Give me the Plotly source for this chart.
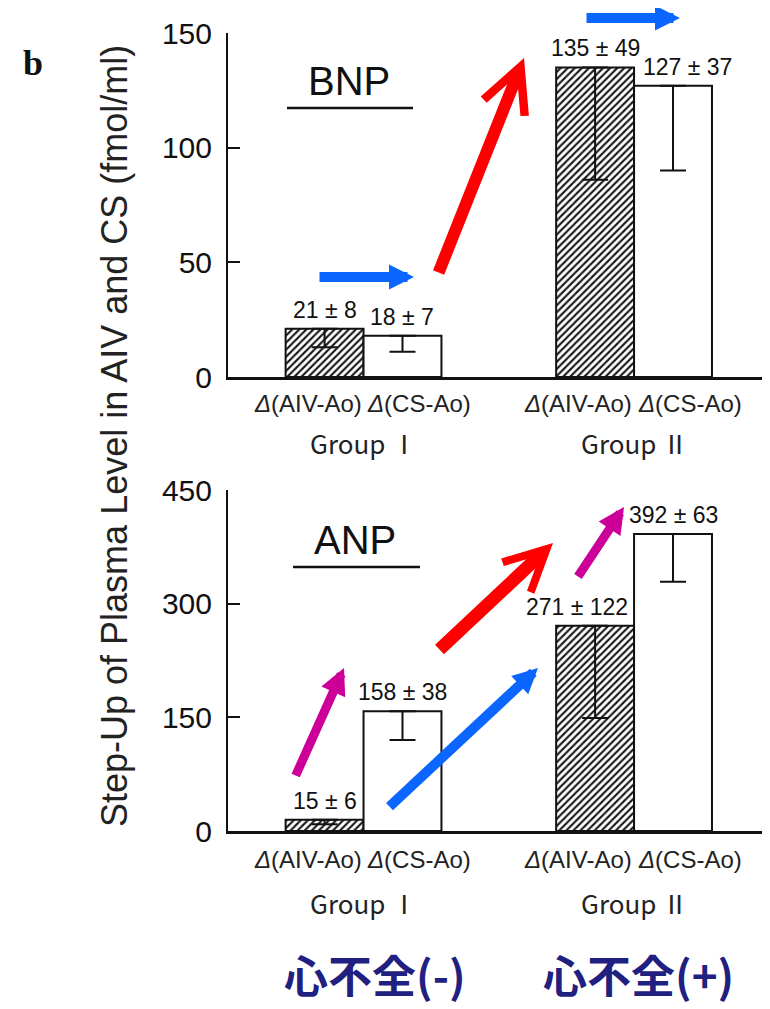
import plotly.graph_objects as go

W, H = 770, 1009
PAGE_OFF = 8  # default body margin of the html page

# ---------------- data ----------------
groups = ["Group Ⅰ", "Group Ⅱ"]
measures = ["Δ(AIV-Ao)", "Δ(CS-Ao)"]

bnp_aiv_mean = [21, 135]
bnp_aiv_sd = [8, 49]
bnp_cs_mean = [18, 127]
bnp_cs_sd = [7, 37]

anp_aiv_mean = [15, 271]
anp_aiv_sd = [6, 122]
anp_cs_mean = [158, 392]
anp_cs_sd = [38, 63]

bnp_ticks = [0, 50, 100, 150]
anp_ticks = [0, 150, 300, 450]

hf_labels = ["心不全(-)", "心不全(+)"]
y_title = "Step-Up of Plasma Level in AIV and CS (fmol/ml)"

# ---------------- layout helpers ----------------
def px(x):
    return (x - PAGE_OFF) / W


def py(y):
    return 1 - (y - PAGE_OFF) / H


BAR_W = 0.288
X_RANGE = [-0.501, 1.484]
X_DOMAIN = [px(228), px(765)]
FONT = "Liberation Sans, Arial, sans-serif"
JFONT = "Noto Sans CJK JP"
BLACK = "#111111"

panels = [
    dict(name="BNP", aiv=bnp_aiv_mean, aiv_sd=bnp_aiv_sd, cs=bnp_cs_mean, cs_sd=bnp_cs_sd,
         ticks=bnp_ticks, xa="x", ya="y", ydom=[py(377), py(33)],
         title_xy=(349, 81), line=(287, 413, 108), dshift=-27, gshift=-66,
         label_xshift={(1, 1): 14}),
    dict(name="ANP", aiv=anp_aiv_mean, aiv_sd=anp_aiv_sd, cs=anp_cs_mean, cs_sd=anp_cs_sd,
         ticks=anp_ticks, xa="x2", ya="y2", ydom=[py(831), py(490)],
         title_xy=(355, 540), line=(293, 420, 567), dshift=-28, gshift=-71,
         label_xshift={(1, 0): -18}),
]

fig = go.Figure()
annotations = []
shapes = []

hatch = dict(shape="/", fgcolor="#1a1a1a", bgcolor="white", size=5, solidity=0.42)

for p in panels:
    gidx = list(range(len(groups)))
    series = [
        (p["aiv"], p["aiv_sd"], -BAR_W / 2, True),
        (p["cs"], p["cs_sd"], BAR_W / 2, False),
    ]
    for si, (means, sds, off, hatched) in enumerate(series):
        xs = [g + off for g in gidx]
        marker = dict(color="white", line=dict(color=BLACK, width=2))
        if hatched:
            marker["pattern"] = hatch
        fig.add_trace(go.Bar(
            x=xs, y=means, width=BAR_W, marker=marker,
            error_y=dict(type="data", symmetric=False, array=[0] * len(means),
                         arrayminus=sds, color=BLACK, thickness=2, width=13),
            xaxis=p["xa"], yaxis=p["ya"], showlegend=False, hoverinfo="skip",
        ))
        for g, m, s in zip(gidx, means, sds):
            annotations.append(dict(
                x=g + off, y=m, xref=p["xa"], yref=p["ya"],
                text=f"{m} ± {s}", showarrow=False, xanchor="center", yanchor="bottom",
                yshift=4, xshift=p["label_xshift"].get((g, si), 0),
                font=dict(family=FONT, size=23, color=BLACK),
            ))
            annotations.append(dict(
                x=g + off, y=0, xref=p["xa"], yref=p["ya"],
                text="<i>Δ</i>" + measures[si][1:], showarrow=False,
                xanchor="center", yanchor="middle",
                yshift=p["dshift"], xshift=-17 if si == 0 else 17,
                font=dict(family=FONT, size=24, color="#222222"),
            ))
    for g in gidx:
        annotations.append(dict(
            x=g, y=0, xref=p["xa"], yref=p["ya"], text=groups[g],
            showarrow=False, xanchor="center", yanchor="middle", yshift=p["gshift"],
            font=dict(family=JFONT, size=26, color="#222222"),
        ))
    tx, ty = p["title_xy"]
    annotations.append(dict(x=px(tx), y=py(ty), xref="paper", yref="paper", text=p["name"],
                            showarrow=False, xanchor="center", yanchor="middle",
                            font=dict(family=FONT, size=40, color=BLACK)))
    lx0, lx1, ly = p["line"]
    shapes.append(dict(type="line", xref="paper", yref="paper", x0=px(lx0), x1=px(lx1),
                       y0=py(ly), y1=py(ly), line=dict(color=BLACK, width=2.5)))

# arrows: tail(px), tip(px), colour, width, head, size
BLUE = "#0a66ff"
RED = "#ff0000"
MAG = "#cc0099"
arrows = [
    ((318, 277), (414, 277), BLUE, 10, 2, 0.5),
    ((585, 18), (680, 18), BLUE, 10, 2, 0.5),
    ((438, 274), (524, 58), RED, 12, 5, 0.72),
    ((295, 777), (344, 668), MAG, 9, 2, 0.58),
    ((388, 808), (538, 668), BLUE, 10, 2, 0.5),
    ((438, 651), (553, 543), RED, 13, 5, 0.62),
    ((577, 578), (624, 507), MAG, 9, 2, 0.58),
]
for (tx0, ty0), (tx1, ty1), col, wdt, head, size in arrows:
    annotations.append(dict(
        x=px(tx1), y=py(ty1), xref="paper", yref="paper", text="",
        showarrow=True, ax=tx0 - tx1, ay=ty0 - ty1, axref="pixel", ayref="pixel",
        arrowcolor=col, arrowwidth=wdt, arrowhead=head, arrowsize=size, standoff=0,
    ))

# y title, panel letter, bottom labels
annotations.append(dict(x=px(114), y=py(436), xref="paper", yref="paper", text=y_title,
                        textangle=-90, showarrow=False, xanchor="center", yanchor="middle",
                        font=dict(family=FONT, size=36, color="#222222")))
annotations.append(dict(x=px(33), y=py(63), xref="paper", yref="paper", text="<b>b</b>",
                        showarrow=False, xanchor="center", yanchor="middle",
                        font=dict(family="Liberation Serif, Times New Roman", size=36, color=BLACK)))
for lab, cx in zip(hf_labels, [375, 638]):
    annotations.append(dict(x=px(cx), y=py(974), xref="paper", yref="paper",
                            text=f"<b>{lab}</b>", showarrow=False,
                            xanchor="center", yanchor="middle",
                            font=dict(family=JFONT, size=44, color="#1f2080")))


def xaxis(anchor):
    return dict(domain=X_DOMAIN, range=X_RANGE, anchor=anchor, showline=True,
                linecolor=BLACK, linewidth=3, showticklabels=False, ticks="",
                showgrid=False, zeroline=False, fixedrange=True, automargin=False)


def yaxis(anchor, dom, ticks):
    return dict(domain=dom, range=[ticks[0], ticks[-1]], anchor=anchor, tickvals=ticks,
                ticks="inside", ticklen=12, tickwidth=2, tickcolor=BLACK,
                showline=True, linecolor=BLACK, linewidth=2, showgrid=False,
                zeroline=False, ticklabelstandoff=8, automargin=False,
                tickfont=dict(family=FONT, size=30, color=BLACK), fixedrange=True)


fig.update_layout(
    template="none",
    width=W, height=H, autosize=False,
    margin=dict(l=0, r=0, t=0, b=0, pad=0),
    paper_bgcolor="white", plot_bgcolor="white",
    barmode="overlay", showlegend=False,
    xaxis=xaxis("y"), yaxis=yaxis("x", panels[0]["ydom"], bnp_ticks),
    xaxis2=xaxis("y2"), yaxis2=yaxis("x2", panels[1]["ydom"], anp_ticks),
    annotations=annotations, shapes=shapes,
)

fig.write_html("out.html", config={"displayModeBar": False})
